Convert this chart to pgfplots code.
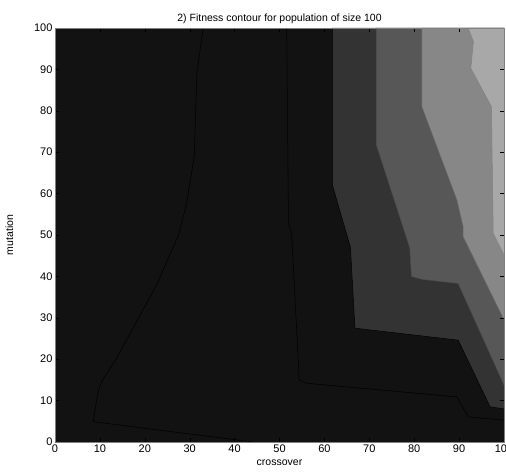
\documentclass[border=0pt]{standalone}
\usepackage{fontspec}
\setmainfont{Liberation Sans}
\usepackage{pgfplots}
\pgfplotsset{compat=1.18}
\definecolor{lv0}{gray}{0.07}
\definecolor{lv1}{gray}{0.20}
\definecolor{lv2}{gray}{0.34}
\definecolor{lv3}{gray}{0.53}
\definecolor{lv4}{gray}{0.66}
\definecolor{frame}{gray}{0.5}
\begin{document}
\begin{tikzpicture}[x=1pt,y=1pt]
\begin{axis}[
  at={(0,0)}, anchor=south west,
  scale only axis, width=449pt, height=414pt,
  xmin=0, xmax=100, ymin=0, ymax=100,
  xtick={0,10,...,100}, ytick={0,10,...,100},
  axis background/.style={fill=lv0},
  axis line style={frame, line width=0.6pt},
  tick style={black, line width=0.4pt},
  tick align=inside, major tick length=4pt,
  every tick label/.style={font=\fontsize{11}{13}\selectfont},
  /pgf/number format/assume math mode=true,
  xticklabel style={yshift=1pt},
  yticklabel style={xshift=1pt},
  title={2) Fitness contour for population of size 100},
  title style={font=\fontsize{10.5}{12}\selectfont, yshift=-5pt},
  xlabel={crossover}, ylabel={mutation},
  label style={font=\fontsize{10.5}{12}\selectfont},
  xlabel style={yshift=-1pt},
  ylabel style={yshift=14pt},
  set layers, axis on top,
]
% level 1
\addplot[fill=lv1, draw=none] coordinates {(61.8,100) (61.8,62) (65.8,47) (66.8,27.5) (89.8,24.6) (96.9,8.5) (100,8) (100,100)};
% level 2
\addplot[fill=lv2, draw=none] coordinates {(71.6,100) (71.6,71.7) (79,47) (79.4,40) (81.7,39.3) (89.8,38.3) (100,13.8) (100,100)};
% level 3
\addplot[fill=lv3, draw=none] coordinates {(81.7,100) (81.7,81) (89.5,58.5) (90.9,52) (90.9,49.6) (100,29.5) (100,100)};
% level 4
\addplot[fill=lv4, draw=none] coordinates {(92,100) (93.2,96.7) (92.6,90.3) (97.2,81) (97.6,50.4) (100,45.2) (100,100)};
% boundaries
\addplot[black, line width=0.5pt] coordinates {(61.8,100) (61.8,62) (65.8,47) (66.8,27.5) (89.8,24.6) (96.9,8.5) (100,8)};
\addplot[black!70, line width=0.5pt] coordinates {(71.6,100) (71.6,71.7) (79,47) (79.4,40) (81.7,39.3) (89.8,38.3) (100,13.8)};
\addplot[black!60, line width=0.5pt] coordinates {(81.7,100) (81.7,81) (89.5,58.5) (90.9,52) (90.9,49.6) (100,29.5)};
\addplot[black!50, line width=0.5pt] coordinates {(92,100) (93.2,96.7) (92.6,90.3) (97.2,81) (97.6,50.4) (100,45.2)};
% contour lines inside the darkest level
\addplot[black, line width=0.5pt] coordinates {(44.2,0) (8.5,4.9) (9.6,12.2) (10.4,14.6) (13.7,20.2) (22.6,37.9) (27.5,50) (29.3,57.6) (31,68.9) (31.6,89) (33,100)};
\addplot[black, line width=0.5pt] coordinates {(51.6,100) (52,52.8) (52.7,50.4) (54.4,15) (56,14.2) (89.5,10.9) (92,6.1) (95.4,5.7) (100,5.3)};
\end{axis}
\pgfresetboundingbox
\path (-55pt,-34pt) rectangle (451pt,442pt);
\end{tikzpicture}
\end{document}
